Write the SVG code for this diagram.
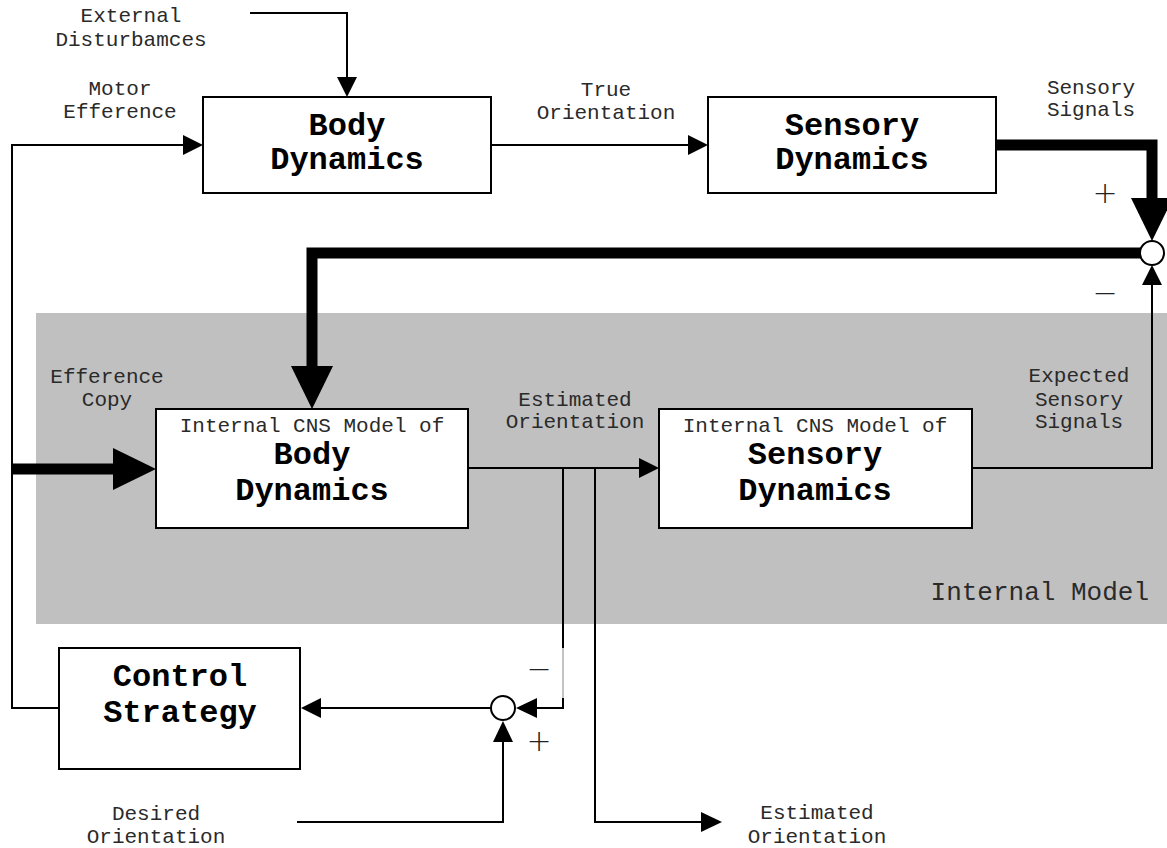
<svg xmlns="http://www.w3.org/2000/svg" width="1167" height="848" viewBox="0 0 1167 848">
<style>
.lbl{font-family:"Liberation Mono","Courier New",monospace;font-size:21px;fill:#2a2a2a;text-anchor:middle}
.big{font-family:"Liberation Mono","Courier New",monospace;font-size:32px;font-weight:bold;fill:#000;text-anchor:middle}
.sign{font-family:"DejaVu Sans","Liberation Sans",sans-serif;font-size:30px;font-weight:200;fill:#222;text-anchor:middle}
.box{fill:#fff;stroke:#000;stroke-width:2}
.thin{fill:none;stroke:#000;stroke-width:2}
.thick{fill:none;stroke:#000;stroke-width:11}
.head{fill:#000;stroke:none}
.sum{fill:#fff;stroke:#000;stroke-width:2}
</style>
<rect id="internal-model-region" x="36" y="313" width="1131" height="311" fill="#c0c0c0"/>
<text class="lbl" x="1149" y="600" style="text-anchor:end;font-size:26px">Internal Model</text>

<g id="connectors">
  <polyline class="thin" points="250,13 347,13 347,78"/>
  <polygon class="head" points="337,77 357,77 347,97"/>
  <polyline class="thin" points="59,708 12,708 12,145 184,145"/>
  <polygon class="head" points="183,135 183,155 203,145"/>
  <line class="thin" x1="491" y1="145" x2="689" y2="145"/>
  <polygon class="head" points="688,135 688,155 708,145"/>
  <polyline class="thick" points="996,145 1152,145 1152,200" stroke-linejoin="miter"/>
  <polygon class="head" points="1131,198 1173,198 1152,241"/>
  <polyline class="thick" points="1141,253 312,253 312,368" stroke-linejoin="miter"/>
  <polygon class="head" points="291,366 333,366 312,409"/>
  <line class="thick" x1="12" y1="469" x2="115" y2="469"/>
  <polygon class="head" points="113,448 113,490 156,469"/>
  <line class="thin" x1="468" y1="468" x2="640" y2="468"/>
  <polygon class="head" points="639,458 639,478 659,468"/>
  <polyline class="thin" points="972,468 1152,468 1152,284"/>
  <polygon class="head" points="1142,285 1162,285 1152,265"/>
  <line class="thin" x1="563" y1="468" x2="563" y2="648"/>
  <line x1="563" y1="648" x2="563" y2="698" stroke="#888" stroke-width="1"/>
  <polyline class="thin" points="563,698 563,708 536,708"/>
  <polygon class="head" points="537,698 537,718 516,708"/>
  <polyline class="thin" points="297,822 503,822 503,741"/>
  <polygon class="head" points="493,742 513,742 503,721"/>
  <line class="thin" x1="491" y1="708" x2="320" y2="708"/>
  <polygon class="head" points="321,698 321,718 301,708"/>
  <polyline class="thin" points="595,468 595,822 702,822"/>
  <polygon class="head" points="701,812 701,832 722,822"/>
</g>

<g id="sum-top">
  <circle class="sum" cx="1152" cy="253" r="12"/>
  <text class="sign" x="1105" y="203">+</text>
  <text class="sign" x="1105" y="303">−</text>
</g>
<g id="sum-bottom">
  <circle class="sum" cx="503" cy="708" r="12"/>
  <text class="sign" x="539" y="679">−</text>
  <text class="sign" x="539" y="751">+</text>
</g>

<g id="body-dynamics">
  <rect class="box" x="203" y="97" width="288" height="96"/>
  <text class="big" x="347" y="135">Body</text>
  <text class="big" x="347" y="169">Dynamics</text>
</g>
<g id="sensory-dynamics">
  <rect class="box" x="708" y="97" width="288" height="96"/>
  <text class="big" x="852" y="135">Sensory</text>
  <text class="big" x="852" y="169">Dynamics</text>
</g>
<g id="internal-body">
  <rect class="box" x="156" y="409" width="312" height="119"/>
  <text class="lbl" x="312" y="432">Internal CNS Model of</text>
  <text class="big" x="312" y="464">Body</text>
  <text class="big" x="312" y="500">Dynamics</text>
</g>
<g id="internal-sensory">
  <rect class="box" x="659" y="409" width="313" height="119"/>
  <text class="lbl" x="815" y="432">Internal CNS Model of</text>
  <text class="big" x="815" y="464">Sensory</text>
  <text class="big" x="815" y="500">Dynamics</text>
</g>
<g id="control-strategy">
  <rect class="box" x="59" y="648" width="241" height="121"/>
  <text class="big" x="180" y="686">Control</text>
  <text class="big" x="180" y="722">Strategy</text>
</g>

<g id="labels">
  <text class="lbl" x="131" y="22">External</text>
  <text class="lbl" x="131" y="46">Disturbamces</text>
  <text class="lbl" x="120" y="95">Motor</text>
  <text class="lbl" x="120" y="118">Efference</text>
  <text class="lbl" x="606" y="96">True</text>
  <text class="lbl" x="606" y="119">Orientation</text>
  <text class="lbl" x="1091" y="94">Sensory</text>
  <text class="lbl" x="1091" y="116">Signals</text>
  <text class="lbl" x="107" y="383">Efference</text>
  <text class="lbl" x="107" y="406">Copy</text>
  <text class="lbl" x="575" y="406">Estimated</text>
  <text class="lbl" x="575" y="428">Orientation</text>
  <text class="lbl" x="1079" y="382">Expected</text>
  <text class="lbl" x="1079" y="406">Sensory</text>
  <text class="lbl" x="1079" y="428">Signals</text>
  <text class="lbl" x="156" y="820">Desired</text>
  <text class="lbl" x="156" y="843">Orientation</text>
  <text class="lbl" x="817" y="819">Estimated</text>
  <text class="lbl" x="817" y="843">Orientation</text>
</g>
</svg>
